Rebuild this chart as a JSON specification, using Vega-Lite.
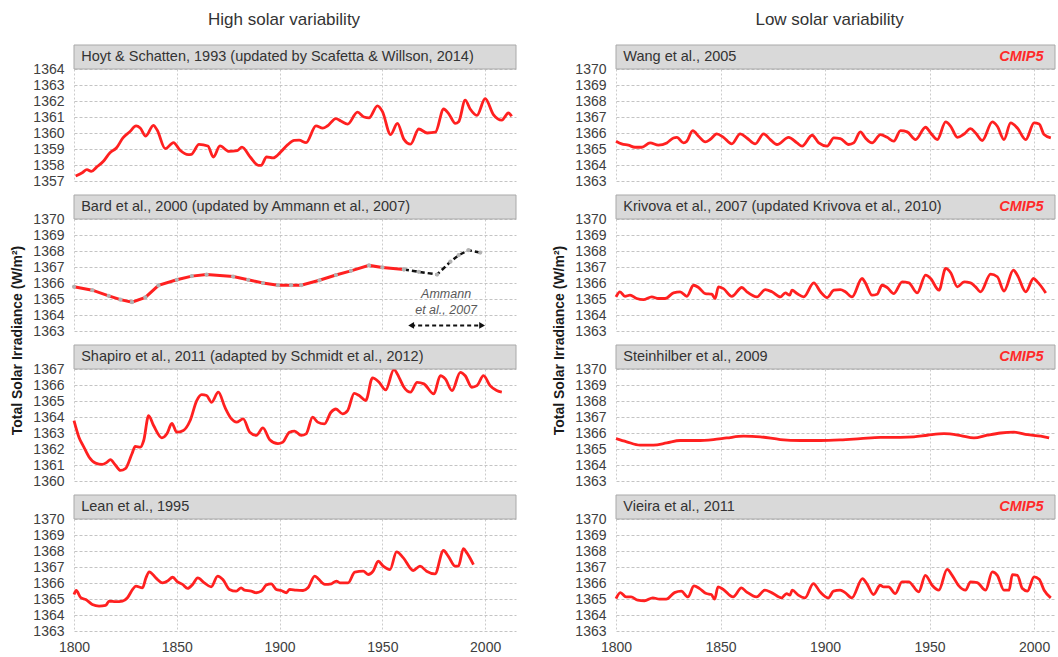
{
"$schema": "https://vega.github.io/schema/vega-lite/v6.json",
"background": "white",
"padding": {"left": 10, "top": 10, "right": 1, "bottom": 2},
"config": {
  "font": "Liberation Sans",
  "view": {"stroke": null},
  "axis": {"domain": false, "ticks": false, "labelFont": "Liberation Sans", "labelFontSize": 14, "labelColor": "#404040", "grid": true, "labelOverlap": false, "labelFlush": false, "tickCount": 20},
  "axisY": {"gridDash": [3, 2], "gridColor": "#c4c4c4", "labelPadding": 10, "titleFontSize": 14, "titleFontWeight": "bold", "titleColor": "#1a1a1a", "titleFont": "Liberation Sans", "labelOverlap": false},
  "axisX": {"gridDash": [2, 2], "gridColor": "#cccccc", "labelPadding": 9},
  "title": {"fontSize": 17, "fontWeight": "normal", "color": "#333333", "font": "Liberation Sans", "offset": 16, "anchor": "middle"}
},
"datasets": {
  "hoyt": [
    {"year":1800.8,"tsi":1357.31},{"year":1804,"tsi":1357.52},{"year":1806.3,"tsi":1357.71},{"year":1808.4,"tsi":1357.6},{"year":1811.1,"tsi":1357.88},{"year":1814.3,"tsi":1358.23},{"year":1817.5,"tsi":1358.77},{"year":1820.6,"tsi":1359.06},{"year":1823.8,"tsi":1359.69},{"year":1827,"tsi":1360.06},{"year":1830.2,"tsi":1360.44},{"year":1832.2,"tsi":1360.31},{"year":1834.9,"tsi":1359.81},{"year":1838.6,"tsi":1360.48},{"year":1840.5,"tsi":1360.17},{"year":1844.4,"tsi":1359.02},{"year":1848.4,"tsi":1359.4},{"year":1851.6,"tsi":1358.92},{"year":1855.6,"tsi":1358.65},{"year":1857.1,"tsi":1358.67},{"year":1860.8,"tsi":1359.29},{"year":1865.1,"tsi":1359.19},{"year":1867.8,"tsi":1358.5},{"year":1871,"tsi":1359.19},{"year":1875.4,"tsi":1358.85},{"year":1879.4,"tsi":1358.9},{"year":1881.7,"tsi":1359.12},{"year":1885.7,"tsi":1358.5},{"year":1889.7,"tsi":1357.98},{"year":1891,"tsi":1357.98},{"year":1893.7,"tsi":1358.5},{"year":1896.8,"tsi":1358.44},{"year":1900.8,"tsi":1358.85},{"year":1904,"tsi":1359.27},{"year":1907.1,"tsi":1359.54},{"year":1909.5,"tsi":1359.55},{"year":1912.9,"tsi":1359.4},{"year":1917.7,"tsi":1360.45},{"year":1921,"tsi":1360.3},{"year":1923.4,"tsi":1360.45},{"year":1927.4,"tsi":1360.9},{"year":1929.8,"tsi":1360.75},{"year":1933.1,"tsi":1360.55},{"year":1937.9,"tsi":1361.3},{"year":1941.1,"tsi":1361.0},{"year":1943.5,"tsi":1360.95},{"year":1947.6,"tsi":1361.7},{"year":1950,"tsi":1361.35},{"year":1954,"tsi":1359.9},{"year":1957.3,"tsi":1360.6},{"year":1960.5,"tsi":1359.6},{"year":1963.7,"tsi":1359.3},{"year":1967.7,"tsi":1360.25},{"year":1971.8,"tsi":1360.0},{"year":1975.8,"tsi":1360.05},{"year":1979.8,"tsi":1361.5},{"year":1982.3,"tsi":1361.2},{"year":1985.5,"tsi":1360.6},{"year":1987.1,"tsi":1360.7},{"year":1990.3,"tsi":1362.05},{"year":1992.7,"tsi":1361.5},{"year":1996,"tsi":1361.1},{"year":2000,"tsi":1362.15},{"year":2004,"tsi":1361.15},{"year":2008.1,"tsi":1360.8},{"year":2011.3,"tsi":1361.25},{"year":2012.9,"tsi":1361.05}
  ],
  "bard": [
    {"year":1800,"tsi":1365.76},{"year":1808.9,"tsi":1365.55},{"year":1816.9,"tsi":1365.2},{"year":1822.6,"tsi":1364.96},{"year":1828.2,"tsi":1364.8},{"year":1834.7,"tsi":1365.1},{"year":1841.1,"tsi":1365.85},{"year":1850,"tsi":1366.2},{"year":1857.3,"tsi":1366.43},{"year":1864.5,"tsi":1366.53},{"year":1877.4,"tsi":1366.4},{"year":1884.7,"tsi":1366.2},{"year":1891.9,"tsi":1366.0},{"year":1899.2,"tsi":1365.86},{"year":1905.6,"tsi":1365.86},{"year":1910.5,"tsi":1365.86},{"year":1919.4,"tsi":1366.17},{"year":1927.4,"tsi":1366.5},{"year":1934.7,"tsi":1366.76},{"year":1943.5,"tsi":1367.1},{"year":1950,"tsi":1366.97},{"year":1960.5,"tsi":1366.85}
  ],
  "ammann": [
    {"year":1960.5,"tsi":1366.85},{"year":1967.7,"tsi":1366.7},{"year":1976.6,"tsi":1366.53},{"year":1983.1,"tsi":1367.33},{"year":1987.1,"tsi":1367.74},{"year":1991.9,"tsi":1368.05},{"year":1997.6,"tsi":1367.9}
  ],
  "shapiro": [
    {"year":1800,"tsi":1363.78},{"year":1802.4,"tsi":1362.74},{"year":1804.8,"tsi":1362.12},{"year":1807.3,"tsi":1361.5},{"year":1810.5,"tsi":1361.12},{"year":1813.7,"tsi":1361.04},{"year":1816.1,"tsi":1361.18},{"year":1817.7,"tsi":1361.33},{"year":1820.2,"tsi":1360.98},{"year":1822.6,"tsi":1360.66},{"year":1825,"tsi":1360.77},{"year":1828.2,"tsi":1361.7},{"year":1829.8,"tsi":1362.16},{"year":1832.3,"tsi":1362.12},{"year":1833.9,"tsi":1362.53},{"year":1836.3,"tsi":1364.09},{"year":1838.7,"tsi":1363.47},{"year":1842.7,"tsi":1362.7},{"year":1845.2,"tsi":1362.95},{"year":1847.6,"tsi":1363.6},{"year":1850,"tsi":1363.05},{"year":1853.2,"tsi":1363.16},{"year":1856.5,"tsi":1363.78},{"year":1859.7,"tsi":1365.03},{"year":1862.1,"tsi":1365.4},{"year":1864.5,"tsi":1365.34},{"year":1866.9,"tsi":1364.92},{"year":1870.2,"tsi":1365.55},{"year":1873.4,"tsi":1364.61},{"year":1876.6,"tsi":1363.88},{"year":1879,"tsi":1363.68},{"year":1882.3,"tsi":1363.88},{"year":1885.5,"tsi":1363.05},{"year":1888.7,"tsi":1362.85},{"year":1891.9,"tsi":1363.32},{"year":1895.2,"tsi":1362.58},{"year":1899.2,"tsi":1362.33},{"year":1901.6,"tsi":1362.43},{"year":1904.8,"tsi":1363.05},{"year":1907.3,"tsi":1363.12},{"year":1910.5,"tsi":1362.85},{"year":1912.9,"tsi":1362.95},{"year":1916.1,"tsi":1363.99},{"year":1918.5,"tsi":1363.68},{"year":1921.8,"tsi":1363.57},{"year":1925,"tsi":1364.3},{"year":1927.4,"tsi":1364.5},{"year":1930.6,"tsi":1364.2},{"year":1933.1,"tsi":1364.4},{"year":1936.3,"tsi":1365.48},{"year":1938.7,"tsi":1365.34},{"year":1941.9,"tsi":1365.03},{"year":1945.2,"tsi":1366.44},{"year":1948.4,"tsi":1366.17},{"year":1951.6,"tsi":1365.69},{"year":1955.6,"tsi":1366.96},{"year":1958.1,"tsi":1366.48},{"year":1960.5,"tsi":1365.86},{"year":1963.7,"tsi":1365.55},{"year":1966.9,"tsi":1366.17},{"year":1970.2,"tsi":1366.07},{"year":1975,"tsi":1365.44},{"year":1978.2,"tsi":1366.58},{"year":1980.6,"tsi":1366.38},{"year":1983.9,"tsi":1365.65},{"year":1987.9,"tsi":1366.79},{"year":1990.3,"tsi":1366.58},{"year":1993.5,"tsi":1365.86},{"year":1996,"tsi":1365.96},{"year":1999.2,"tsi":1366.58},{"year":2002.4,"tsi":1365.96},{"year":2005.6,"tsi":1365.65},{"year":2008.1,"tsi":1365.55}
  ],
  "lean": [
    {"year":1800,"tsi":1365.28},{"year":1801.1,"tsi":1365.53},{"year":1803.3,"tsi":1365.08},{"year":1805.7,"tsi":1364.97},{"year":1808.9,"tsi":1364.66},{"year":1812.2,"tsi":1364.56},{"year":1815.4,"tsi":1364.6},{"year":1817.1,"tsi":1364.87},{"year":1820.3,"tsi":1364.83},{"year":1823.6,"tsi":1364.87},{"year":1826,"tsi":1365.08},{"year":1828.5,"tsi":1365.6},{"year":1830.1,"tsi":1365.8},{"year":1833.3,"tsi":1365.7},{"year":1835,"tsi":1366.32},{"year":1836.6,"tsi":1366.7},{"year":1839.8,"tsi":1366.32},{"year":1843.1,"tsi":1366.01},{"year":1845.5,"tsi":1366.12},{"year":1848,"tsi":1366.36},{"year":1850.4,"tsi":1366.07},{"year":1852.8,"tsi":1365.91},{"year":1855.3,"tsi":1365.66},{"year":1857.7,"tsi":1365.91},{"year":1860.2,"tsi":1366.32},{"year":1863.4,"tsi":1366.01},{"year":1866.7,"tsi":1365.76},{"year":1869.9,"tsi":1366.43},{"year":1872.4,"tsi":1366.22},{"year":1875.6,"tsi":1365.6},{"year":1878.9,"tsi":1365.49},{"year":1881.3,"tsi":1365.7},{"year":1882.9,"tsi":1365.55},{"year":1886.2,"tsi":1365.49},{"year":1888.6,"tsi":1365.39},{"year":1891.1,"tsi":1365.49},{"year":1893.5,"tsi":1365.87},{"year":1895.9,"tsi":1365.95},{"year":1898.4,"tsi":1365.6},{"year":1900.8,"tsi":1365.53},{"year":1903.3,"tsi":1365.39},{"year":1904.9,"tsi":1365.6},{"year":1908.1,"tsi":1365.55},{"year":1911.4,"tsi":1365.53},{"year":1913.8,"tsi":1365.7},{"year":1917.1,"tsi":1366.43},{"year":1918.7,"tsi":1366.28},{"year":1922,"tsi":1365.91},{"year":1925.2,"tsi":1365.95},{"year":1927.6,"tsi":1366.12},{"year":1929.3,"tsi":1366.01},{"year":1933.3,"tsi":1366.01},{"year":1936.6,"tsi":1366.68},{"year":1940.7,"tsi":1366.74},{"year":1943.1,"tsi":1366.53},{"year":1945.5,"tsi":1366.74},{"year":1948,"tsi":1367.36},{"year":1950.4,"tsi":1367.05},{"year":1953.7,"tsi":1366.84},{"year":1956.9,"tsi":1367.94},{"year":1960.2,"tsi":1367.57},{"year":1965,"tsi":1366.78},{"year":1968.3,"tsi":1367.05},{"year":1971.5,"tsi":1366.74},{"year":1975.6,"tsi":1366.57},{"year":1979.7,"tsi":1368.03},{"year":1982.1,"tsi":1367.67},{"year":1985.4,"tsi":1367.05},{"year":1987,"tsi":1367.05},{"year":1989.4,"tsi":1368.15},{"year":1991.1,"tsi":1367.88},{"year":1994.3,"tsi":1367.15}
  ],
  "wang": [
    {"year":1800,"tsi":1365.49},{"year":1802.7,"tsi":1365.32},{"year":1805.9,"tsi":1365.24},{"year":1809.1,"tsi":1365.11},{"year":1812.3,"tsi":1365.11},{"year":1816.3,"tsi":1365.38},{"year":1820.3,"tsi":1365.24},{"year":1824.3,"tsi":1365.38},{"year":1827.5,"tsi":1365.69},{"year":1829.1,"tsi":1365.73},{"year":1832.3,"tsi":1365.38},{"year":1833.9,"tsi":1365.49},{"year":1836.7,"tsi":1366.15},{"year":1839.5,"tsi":1365.8},{"year":1842.7,"tsi":1365.45},{"year":1845,"tsi":1365.59},{"year":1848.2,"tsi":1365.94},{"year":1851.4,"tsi":1365.73},{"year":1855.4,"tsi":1365.32},{"year":1859.4,"tsi":1365.94},{"year":1862.6,"tsi":1365.69},{"year":1866.6,"tsi":1365.32},{"year":1870.6,"tsi":1365.94},{"year":1873.8,"tsi":1365.59},{"year":1877,"tsi":1365.28},{"year":1882.6,"tsi":1365.73},{"year":1886.6,"tsi":1365.38},{"year":1889,"tsi":1365.18},{"year":1893.8,"tsi":1365.86},{"year":1897,"tsi":1365.38},{"year":1901,"tsi":1365.18},{"year":1904.2,"tsi":1365.69},{"year":1907.3,"tsi":1365.65},{"year":1911.3,"tsi":1365.28},{"year":1913.7,"tsi":1365.38},{"year":1916.9,"tsi":1366.07},{"year":1919.3,"tsi":1365.69},{"year":1922.5,"tsi":1365.38},{"year":1926.5,"tsi":1365.9},{"year":1929.7,"tsi":1365.73},{"year":1932.9,"tsi":1365.49},{"year":1936.1,"tsi":1366.15},{"year":1939.3,"tsi":1366.07},{"year":1943.3,"tsi":1365.59},{"year":1948.1,"tsi":1366.36},{"year":1950.5,"tsi":1366.0},{"year":1953.7,"tsi":1365.59},{"year":1957.7,"tsi":1366.69},{"year":1960.1,"tsi":1366.42},{"year":1963.3,"tsi":1365.73},{"year":1966.5,"tsi":1365.94},{"year":1969.6,"tsi":1366.27},{"year":1972,"tsi":1366.0},{"year":1975.2,"tsi":1365.53},{"year":1980,"tsi":1366.69},{"year":1982.4,"tsi":1366.42},{"year":1985.6,"tsi":1365.59},{"year":1988.8,"tsi":1366.63},{"year":1992,"tsi":1366.31},{"year":1996,"tsi":1365.59},{"year":2000,"tsi":1366.63},{"year":2002.4,"tsi":1366.56},{"year":2004.8,"tsi":1365.9},{"year":2008,"tsi":1365.69}
  ],
  "krivova": [
    {"year":1800,"tsi":1365.13},{"year":1801.9,"tsi":1365.45},{"year":1804.3,"tsi":1365.17},{"year":1806.7,"tsi":1365.24},{"year":1809.9,"tsi":1365.03},{"year":1813.1,"tsi":1364.96},{"year":1817.1,"tsi":1365.13},{"year":1820.3,"tsi":1365.03},{"year":1823.5,"tsi":1365.03},{"year":1827.5,"tsi":1365.38},{"year":1830.7,"tsi":1365.45},{"year":1833.9,"tsi":1365.17},{"year":1837.1,"tsi":1365.86},{"year":1839.5,"tsi":1365.72},{"year":1842.7,"tsi":1365.34},{"year":1845.8,"tsi":1365.3},{"year":1847.4,"tsi":1365.03},{"year":1849,"tsi":1365.76},{"year":1851.4,"tsi":1365.65},{"year":1855.4,"tsi":1365.17},{"year":1860.2,"tsi":1365.72},{"year":1862.6,"tsi":1365.45},{"year":1867.4,"tsi":1365.13},{"year":1871.4,"tsi":1365.59},{"year":1874.6,"tsi":1365.45},{"year":1878.6,"tsi":1365.13},{"year":1881,"tsi":1365.38},{"year":1883.1,"tsi":1365.24},{"year":1884.2,"tsi":1365.55},{"year":1886.6,"tsi":1365.34},{"year":1889.8,"tsi":1365.13},{"year":1894.6,"tsi":1366.01},{"year":1897.8,"tsi":1365.45},{"year":1901,"tsi":1365.09},{"year":1904.2,"tsi":1365.55},{"year":1907.3,"tsi":1365.59},{"year":1909.7,"tsi":1365.45},{"year":1912.9,"tsi":1365.13},{"year":1917.7,"tsi":1366.28},{"year":1919.3,"tsi":1366.01},{"year":1922.5,"tsi":1365.24},{"year":1924.9,"tsi":1365.3},{"year":1927.3,"tsi":1365.86},{"year":1929.7,"tsi":1365.72},{"year":1932.9,"tsi":1365.34},{"year":1936.9,"tsi":1366.07},{"year":1940.1,"tsi":1366.01},{"year":1944.1,"tsi":1365.38},{"year":1948.1,"tsi":1366.49},{"year":1950.5,"tsi":1366.28},{"year":1954.5,"tsi":1365.55},{"year":1957.7,"tsi":1366.91},{"year":1960.1,"tsi":1366.64},{"year":1963.3,"tsi":1365.76},{"year":1966.5,"tsi":1366.07},{"year":1969.6,"tsi":1366.01},{"year":1972,"tsi":1365.76},{"year":1974.4,"tsi":1365.45},{"year":1979.2,"tsi":1366.55},{"year":1982.4,"tsi":1366.39},{"year":1985.6,"tsi":1365.5},{"year":1990.1,"tsi":1366.8},{"year":1992,"tsi":1366.49},{"year":1996,"tsi":1365.45},{"year":1999.7,"tsi":1366.28},{"year":2001.6,"tsi":1366.07},{"year":2005.6,"tsi":1365.38}
  ],
  "steinhilber": [
    {"year":1800,"tsi":1365.65},{"year":1805.1,"tsi":1365.45},{"year":1811.5,"tsi":1365.24},{"year":1817.9,"tsi":1365.24},{"year":1824.3,"tsi":1365.38},{"year":1830.7,"tsi":1365.53},{"year":1838.7,"tsi":1365.53},{"year":1846.6,"tsi":1365.59},{"year":1853,"tsi":1365.69},{"year":1861,"tsi":1365.8},{"year":1869,"tsi":1365.76},{"year":1878.6,"tsi":1365.59},{"year":1888.2,"tsi":1365.53},{"year":1897.8,"tsi":1365.53},{"year":1907.3,"tsi":1365.57},{"year":1916.9,"tsi":1365.65},{"year":1926.5,"tsi":1365.73},{"year":1936.1,"tsi":1365.73},{"year":1942.5,"tsi":1365.76},{"year":1948.9,"tsi":1365.86},{"year":1956.9,"tsi":1365.96},{"year":1964.9,"tsi":1365.84},{"year":1971.2,"tsi":1365.69},{"year":1977.6,"tsi":1365.86},{"year":1984,"tsi":1366.0},{"year":1990.4,"tsi":1366.05},{"year":1996.8,"tsi":1365.9},{"year":2003.2,"tsi":1365.8},{"year":2007.2,"tsi":1365.69}
  ],
  "vieira": [
    {"year":1800,"tsi":1365.03},{"year":1802.1,"tsi":1365.4},{"year":1804.8,"tsi":1365.13},{"year":1807.2,"tsi":1365.13},{"year":1810.4,"tsi":1364.93},{"year":1813.6,"tsi":1364.89},{"year":1817.6,"tsi":1365.07},{"year":1820.8,"tsi":1364.99},{"year":1824,"tsi":1364.99},{"year":1828,"tsi":1365.4},{"year":1831.2,"tsi":1365.49},{"year":1834.4,"tsi":1365.13},{"year":1837.3,"tsi":1365.82},{"year":1840,"tsi":1365.65},{"year":1843.2,"tsi":1365.34},{"year":1845.6,"tsi":1365.28},{"year":1847.2,"tsi":1364.99},{"year":1848.8,"tsi":1365.76},{"year":1851.2,"tsi":1365.61},{"year":1856,"tsi":1365.13},{"year":1860,"tsi":1365.69},{"year":1862.4,"tsi":1365.45},{"year":1867.2,"tsi":1365.13},{"year":1871.2,"tsi":1365.55},{"year":1874.4,"tsi":1365.4},{"year":1879.2,"tsi":1365.07},{"year":1881.6,"tsi":1365.34},{"year":1883.2,"tsi":1365.24},{"year":1884.3,"tsi":1365.55},{"year":1887.2,"tsi":1365.24},{"year":1890.4,"tsi":1365.07},{"year":1894.4,"tsi":1365.96},{"year":1897.6,"tsi":1365.45},{"year":1901.6,"tsi":1365.07},{"year":1904,"tsi":1365.49},{"year":1907.2,"tsi":1365.55},{"year":1909.6,"tsi":1365.4},{"year":1912.8,"tsi":1365.07},{"year":1917.9,"tsi":1366.27},{"year":1920,"tsi":1365.96},{"year":1923.2,"tsi":1365.28},{"year":1926.4,"tsi":1365.86},{"year":1928,"tsi":1365.76},{"year":1930.4,"tsi":1365.76},{"year":1933.6,"tsi":1365.34},{"year":1936.8,"tsi":1366.07},{"year":1940,"tsi":1366.07},{"year":1944.8,"tsi":1365.45},{"year":1948,"tsi":1366.48},{"year":1951.2,"tsi":1365.86},{"year":1954.4,"tsi":1365.55},{"year":1958.4,"tsi":1366.85},{"year":1960.8,"tsi":1366.48},{"year":1964,"tsi":1365.82},{"year":1967.2,"tsi":1365.55},{"year":1969.6,"tsi":1366.07},{"year":1972.8,"tsi":1366.02},{"year":1976.8,"tsi":1365.55},{"year":1980,"tsi":1366.69},{"year":1982.4,"tsi":1366.48},{"year":1985.6,"tsi":1365.55},{"year":1988,"tsi":1365.55},{"year":1989.6,"tsi":1366.52},{"year":1992,"tsi":1366.48},{"year":1994.4,"tsi":1365.65},{"year":1996.8,"tsi":1365.49},{"year":2000,"tsi":1366.38},{"year":2002.4,"tsi":1366.23},{"year":2004.8,"tsi":1365.55},{"year":2008,"tsi":1365.07}
  ]
},
"spacing": 34,
"hconcat": [
{
  "title": {"text": "High solar variability", "dx": 20},
  "bounds": "flush",
  "spacing": 14,
  "vconcat": [
    {
      "width": 442, "height": 136,
      "layer": [
        {"data": {"name": "hoyt"}, "mark": {"type": "line", "color": "#ff2020", "strokeWidth": 2.8, "interpolate": "monotone"},
         "encoding": {
           "x": {"field": "year", "type": "quantitative", "scale": {"domain": [1800, 2015], "nice": false}, "axis": {"values": [1800, 1850, 1900, 1950, 2000], "labels": false, "title": null, "tickCount": 20}},
           "y": {"field": "tsi", "type": "quantitative", "scale": {"domain": [1357, 1365.5], "nice": false, "zero": false}, "axis": {"values": [1357, 1358, 1359, 1360, 1361, 1362, 1363, 1364], "format": "d", "title": null, "labelOverlap": false, "tickCount": 20}}}},
        {"data": {"values": [{"label": "Hoyt & Schatten, 1993 (updated by Scafetta & Willson, 2014)"}]}, "mark": {"type": "rect", "fill": "#d9d9d9", "stroke": "#a9a9a9", "strokeWidth": 1},
         "encoding": {"x": {"datum": 1800}, "x2": {"datum": 2015}, "y": {"datum": 1364}, "y2": {"datum": 1365.5}}},
        {"data": {"values": [{"label": "Hoyt & Schatten, 1993 (updated by Scafetta & Willson, 2014)"}]}, "mark": {"type": "text", "align": "left", "baseline": "middle", "fontSize": 14.5, "color": "#333333"},
         "encoding": {"x": {"datum": 1803.5}, "y": {"datum": 1364.75}, "text": {"field": "label"}}}
      ]
    },
    {
      "width": 442, "height": 136,
      "layer": [
        {"data": {"name": "bard"}, "mark": {"type": "line", "color": "#ff2020", "strokeWidth": 3},
         "encoding": {
           "x": {"field": "year", "type": "quantitative", "scale": {"domain": [1800, 2015], "nice": false}, "axis": {"values": [1800, 1850, 1900, 1950, 2000], "labels": false, "title": null, "tickCount": 20}},
           "y": {"field": "tsi", "type": "quantitative", "scale": {"domain": [1363, 1371.5], "nice": false, "zero": false}, "axis": {"values": [1363, 1364, 1365, 1366, 1367, 1368, 1369, 1370], "format": "d", "labelOverlap": false, "tickCount": 20, "title": "Total Solar Irradiance (W/m²)", "titleY": 145, "titlePadding": 8}}}},
        {"data": {"name": "ammann"}, "mark": {"type": "line", "color": "#111111", "strokeWidth": 2.5, "strokeDash": [5, 3]},
         "encoding": {"x": {"field": "year", "type": "quantitative"}, "y": {"field": "tsi", "type": "quantitative"}}},
        {"data": {"name": "bard"}, "mark": {"type": "point", "filled": true, "color": "#b3b3b3", "size": 18, "opacity": 1},
         "encoding": {"x": {"field": "year", "type": "quantitative"}, "y": {"field": "tsi", "type": "quantitative"}}},
        {"data": {"name": "ammann"}, "mark": {"type": "point", "filled": true, "color": "#b3b3b3", "size": 18, "opacity": 1},
         "encoding": {"x": {"field": "year", "type": "quantitative"}, "y": {"field": "tsi", "type": "quantitative"}}},
        {"data": {"values": [{"t": "Ammann", "year": 1981, "tsi": 1365.3}, {"t": "et al., 2007", "year": 1981, "tsi": 1364.3}]},
         "mark": {"type": "text", "fontStyle": "italic", "fontSize": 12.5, "color": "#595959", "align": "center", "baseline": "middle"},
         "encoding": {"x": {"field": "year", "type": "quantitative"}, "y": {"field": "tsi", "type": "quantitative"}, "text": {"field": "t"}}},
        {"data": {"values": [{"start": 1964, "end": 1998.5, "tsi": 1363.35}]},
         "mark": {"type": "rule", "color": "#111111", "strokeWidth": 2, "strokeDash": [4, 3]},
         "encoding": {"x": {"field": "start", "type": "quantitative"}, "x2": {"field": "end"}, "y": {"field": "tsi", "type": "quantitative"}}},
        {"data": {"values": [{"start": 1964, "end": 1998.5, "tsi": 1363.35}]},
         "mark": {"type": "point", "shape": "triangle-left", "filled": true, "color": "#111111", "size": 45, "opacity": 1},
         "encoding": {"x": {"field": "start", "type": "quantitative"}, "y": {"field": "tsi", "type": "quantitative"}}},
        {"data": {"values": [{"start": 1964, "end": 1998.5, "tsi": 1363.35}]},
         "mark": {"type": "point", "shape": "triangle-right", "filled": true, "color": "#111111", "size": 45, "opacity": 1},
         "encoding": {"x": {"field": "end", "type": "quantitative"}, "y": {"field": "tsi", "type": "quantitative"}}},
        {"data": {"values": [{"label": "Bard et al., 2000 (updated by Ammann et al., 2007)"}]}, "mark": {"type": "rect", "fill": "#d9d9d9", "stroke": "#a9a9a9", "strokeWidth": 1},
         "encoding": {"x": {"datum": 1800}, "x2": {"datum": 2015}, "y": {"datum": 1370}, "y2": {"datum": 1371.5}}},
        {"data": {"values": [{"label": "Bard et al., 2000 (updated by Ammann et al., 2007)"}]}, "mark": {"type": "text", "align": "left", "baseline": "middle", "fontSize": 14.5, "color": "#333333"},
         "encoding": {"x": {"datum": 1803.5}, "y": {"datum": 1370.75}, "text": {"field": "label"}}}
      ]
    },
    {
      "width": 442, "height": 136,
      "layer": [
        {"data": {"name": "shapiro"}, "mark": {"type": "line", "color": "#ff2020", "strokeWidth": 2.8, "interpolate": "monotone"},
         "encoding": {
           "x": {"field": "year", "type": "quantitative", "scale": {"domain": [1800, 2015], "nice": false}, "axis": {"values": [1800, 1850, 1900, 1950, 2000], "labels": false, "title": null, "tickCount": 20}},
           "y": {"field": "tsi", "type": "quantitative", "scale": {"domain": [1360, 1368.5], "nice": false, "zero": false}, "axis": {"values": [1360, 1361, 1362, 1363, 1364, 1365, 1366, 1367], "format": "d", "title": null, "labelOverlap": false, "tickCount": 20}}}},
        {"data": {"values": [{"label": "Shapiro et al., 2011 (adapted by Schmidt et al., 2012)"}]}, "mark": {"type": "rect", "fill": "#d9d9d9", "stroke": "#a9a9a9", "strokeWidth": 1},
         "encoding": {"x": {"datum": 1800}, "x2": {"datum": 2015}, "y": {"datum": 1367}, "y2": {"datum": 1368.5}}},
        {"data": {"values": [{"label": "Shapiro et al., 2011 (adapted by Schmidt et al., 2012)"}]}, "mark": {"type": "text", "align": "left", "baseline": "middle", "fontSize": 14.5, "color": "#333333"},
         "encoding": {"x": {"datum": 1803.5}, "y": {"datum": 1367.75}, "text": {"field": "label"}}}
      ]
    },
    {
      "width": 442, "height": 136,
      "layer": [
        {"data": {"name": "lean"}, "mark": {"type": "line", "color": "#ff2020", "strokeWidth": 2.8, "interpolate": "monotone"},
         "encoding": {
           "x": {"field": "year", "type": "quantitative", "scale": {"domain": [1800, 2015], "nice": false}, "axis": {"values": [1800, 1850, 1900, 1950, 2000], "format": "d", "title": null, "tickCount": 20}},
           "y": {"field": "tsi", "type": "quantitative", "scale": {"domain": [1363, 1371.5], "nice": false, "zero": false}, "axis": {"values": [1363, 1364, 1365, 1366, 1367, 1368, 1369, 1370], "format": "d", "title": null, "labelOverlap": false, "tickCount": 20}}}},
        {"data": {"values": [{"label": "Lean et al., 1995"}]}, "mark": {"type": "rect", "fill": "#d9d9d9", "stroke": "#a9a9a9", "strokeWidth": 1},
         "encoding": {"x": {"datum": 1800}, "x2": {"datum": 2015}, "y": {"datum": 1370}, "y2": {"datum": 1371.5}}},
        {"data": {"values": [{"label": "Lean et al., 1995"}]}, "mark": {"type": "text", "align": "left", "baseline": "middle", "fontSize": 14.5, "color": "#333333"},
         "encoding": {"x": {"datum": 1803.5}, "y": {"datum": 1370.75}, "text": {"field": "label"}}}
      ]
    }
  ]
},
{
  "title": {"text": "Low solar variability", "dx": 25},
  "bounds": "flush",
  "spacing": 14,
  "vconcat": [
    {
      "width": 439, "height": 136,
      "layer": [
        {"data": {"name": "wang"}, "mark": {"type": "line", "color": "#ff2020", "strokeWidth": 2.8, "interpolate": "monotone"},
         "encoding": {
           "x": {"field": "year", "type": "quantitative", "scale": {"domain": [1800, 2010], "nice": false}, "axis": {"values": [1800, 1850, 1900, 1950, 2000], "labels": false, "title": null, "tickCount": 20}},
           "y": {"field": "tsi", "type": "quantitative", "scale": {"domain": [1363, 1371.5], "nice": false, "zero": false}, "axis": {"values": [1363, 1364, 1365, 1366, 1367, 1368, 1369, 1370], "format": "d", "title": null, "labelOverlap": false, "tickCount": 20}}}},
        {"data": {"values": [{"label": "Wang et al., 2005", "tag": "CMIP5"}]}, "mark": {"type": "rect", "fill": "#d9d9d9", "stroke": "#a9a9a9", "strokeWidth": 1},
         "encoding": {"x": {"datum": 1800}, "x2": {"datum": 2010}, "y": {"datum": 1370}, "y2": {"datum": 1371.5}}},
        {"data": {"values": [{"label": "Wang et al., 2005", "tag": "CMIP5"}]}, "mark": {"type": "text", "align": "left", "baseline": "middle", "fontSize": 14.5, "color": "#333333"},
         "encoding": {"x": {"datum": 1803.5}, "y": {"datum": 1370.75}, "text": {"field": "label"}}},
        {"data": {"values": [{"label": "Wang et al., 2005", "tag": "CMIP5"}]}, "mark": {"type": "text", "align": "right", "baseline": "middle", "fontSize": 14.5, "fontWeight": "bold", "fontStyle": "italic", "color": "#ff2a2a"},
         "encoding": {"x": {"datum": 2004.5}, "y": {"datum": 1370.75}, "text": {"field": "tag"}}}
      ]
    },
    {
      "width": 439, "height": 136,
      "layer": [
        {"data": {"name": "krivova"}, "mark": {"type": "line", "color": "#ff2020", "strokeWidth": 2.8, "interpolate": "monotone"},
         "encoding": {
           "x": {"field": "year", "type": "quantitative", "scale": {"domain": [1800, 2010], "nice": false}, "axis": {"values": [1800, 1850, 1900, 1950, 2000], "labels": false, "title": null, "tickCount": 20}},
           "y": {"field": "tsi", "type": "quantitative", "scale": {"domain": [1363, 1371.5], "nice": false, "zero": false}, "axis": {"values": [1363, 1364, 1365, 1366, 1367, 1368, 1369, 1370], "format": "d", "labelOverlap": false, "tickCount": 20, "title": "Total Solar Irradiance (W/m²)", "titleY": 145, "titlePadding": 8}}}},
        {"data": {"values": [{"label": "Krivova et al., 2007 (updated Krivova et al., 2010)", "tag": "CMIP5"}]}, "mark": {"type": "rect", "fill": "#d9d9d9", "stroke": "#a9a9a9", "strokeWidth": 1},
         "encoding": {"x": {"datum": 1800}, "x2": {"datum": 2010}, "y": {"datum": 1370}, "y2": {"datum": 1371.5}}},
        {"data": {"values": [{"label": "Krivova et al., 2007 (updated Krivova et al., 2010)", "tag": "CMIP5"}]}, "mark": {"type": "text", "align": "left", "baseline": "middle", "fontSize": 14.5, "color": "#333333"},
         "encoding": {"x": {"datum": 1803.5}, "y": {"datum": 1370.75}, "text": {"field": "label"}}},
        {"data": {"values": [{"label": "Krivova et al., 2007 (updated Krivova et al., 2010)", "tag": "CMIP5"}]}, "mark": {"type": "text", "align": "right", "baseline": "middle", "fontSize": 14.5, "fontWeight": "bold", "fontStyle": "italic", "color": "#ff2a2a"},
         "encoding": {"x": {"datum": 2004.5}, "y": {"datum": 1370.75}, "text": {"field": "tag"}}}
      ]
    },
    {
      "width": 439, "height": 136,
      "layer": [
        {"data": {"name": "steinhilber"}, "mark": {"type": "line", "color": "#ff2020", "strokeWidth": 2.8, "interpolate": "monotone"},
         "encoding": {
           "x": {"field": "year", "type": "quantitative", "scale": {"domain": [1800, 2010], "nice": false}, "axis": {"values": [1800, 1850, 1900, 1950, 2000], "labels": false, "title": null, "tickCount": 20}},
           "y": {"field": "tsi", "type": "quantitative", "scale": {"domain": [1363, 1371.5], "nice": false, "zero": false}, "axis": {"values": [1363, 1364, 1365, 1366, 1367, 1368, 1369, 1370], "format": "d", "title": null, "labelOverlap": false, "tickCount": 20}}}},
        {"data": {"values": [{"label": "Steinhilber et al., 2009", "tag": "CMIP5"}]}, "mark": {"type": "rect", "fill": "#d9d9d9", "stroke": "#a9a9a9", "strokeWidth": 1},
         "encoding": {"x": {"datum": 1800}, "x2": {"datum": 2010}, "y": {"datum": 1370}, "y2": {"datum": 1371.5}}},
        {"data": {"values": [{"label": "Steinhilber et al., 2009", "tag": "CMIP5"}]}, "mark": {"type": "text", "align": "left", "baseline": "middle", "fontSize": 14.5, "color": "#333333"},
         "encoding": {"x": {"datum": 1803.5}, "y": {"datum": 1370.75}, "text": {"field": "label"}}},
        {"data": {"values": [{"label": "Steinhilber et al., 2009", "tag": "CMIP5"}]}, "mark": {"type": "text", "align": "right", "baseline": "middle", "fontSize": 14.5, "fontWeight": "bold", "fontStyle": "italic", "color": "#ff2a2a"},
         "encoding": {"x": {"datum": 2004.5}, "y": {"datum": 1370.75}, "text": {"field": "tag"}}}
      ]
    },
    {
      "width": 439, "height": 136,
      "layer": [
        {"data": {"name": "vieira"}, "mark": {"type": "line", "color": "#ff2020", "strokeWidth": 2.8, "interpolate": "monotone"},
         "encoding": {
           "x": {"field": "year", "type": "quantitative", "scale": {"domain": [1800, 2010], "nice": false}, "axis": {"values": [1800, 1850, 1900, 1950, 2000], "format": "d", "title": null, "tickCount": 20}},
           "y": {"field": "tsi", "type": "quantitative", "scale": {"domain": [1363, 1371.5], "nice": false, "zero": false}, "axis": {"values": [1363, 1364, 1365, 1366, 1367, 1368, 1369, 1370], "format": "d", "title": null, "labelOverlap": false, "tickCount": 20}}}},
        {"data": {"values": [{"label": "Vieira et al., 2011", "tag": "CMIP5"}]}, "mark": {"type": "rect", "fill": "#d9d9d9", "stroke": "#a9a9a9", "strokeWidth": 1},
         "encoding": {"x": {"datum": 1800}, "x2": {"datum": 2010}, "y": {"datum": 1370}, "y2": {"datum": 1371.5}}},
        {"data": {"values": [{"label": "Vieira et al., 2011", "tag": "CMIP5"}]}, "mark": {"type": "text", "align": "left", "baseline": "middle", "fontSize": 14.5, "color": "#333333"},
         "encoding": {"x": {"datum": 1803.5}, "y": {"datum": 1370.75}, "text": {"field": "label"}}},
        {"data": {"values": [{"label": "Vieira et al., 2011", "tag": "CMIP5"}]}, "mark": {"type": "text", "align": "right", "baseline": "middle", "fontSize": 14.5, "fontWeight": "bold", "fontStyle": "italic", "color": "#ff2a2a"},
         "encoding": {"x": {"datum": 2004.5}, "y": {"datum": 1370.75}, "text": {"field": "tag"}}}
      ]
    }
  ]
}
]
}
